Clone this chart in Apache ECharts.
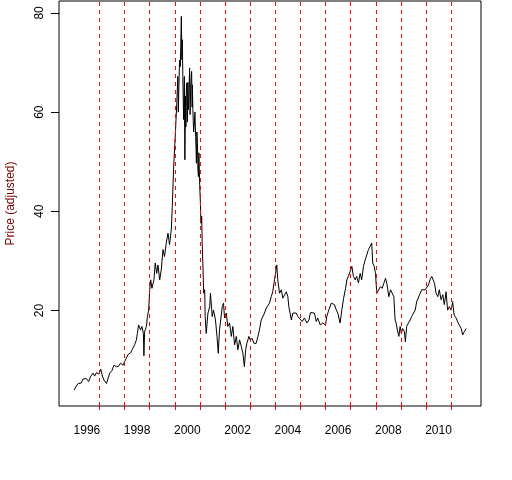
<!DOCTYPE html>
<html>
<head>
<meta charset="utf-8">
<script src="https://cdn.jsdelivr.net/npm/echarts@6/dist/echarts.min.js"></script>
<style>
  html, body { margin: 0; padding: 0; background: #fff; }
  #chart { width: 512px; height: 480px; }
</style>
</head>
<body>
<div id="chart"></div>
<script>
// daily adjusted close (decimal years)
var years = [
  1995.99, 1996.08, 1996.15, 1996.28, 1996.34, 1996.48, 1996.57, 1996.65, 1996.74, 1996.81,
  1996.88, 1996.98, 1997.05, 1997.12, 1997.18, 1997.28, 1997.34, 1997.41, 1997.50, 1997.58,
  1997.67, 1997.75, 1997.84, 1997.94, 1998.00, 1998.07, 1998.13, 1998.24, 1998.33, 1998.40,
  1998.47, 1998.51, 1998.56, 1998.64, 1998.69, 1998.75, 1998.77, 1998.80, 1998.87, 1998.91,
  1998.96, 1999.00, 1999.04, 1999.09, 1999.17, 1999.22, 1999.28, 1999.33, 1999.40, 1999.46,
  1999.53, 1999.59, 1999.66, 1999.73, 1999.79, 1999.86, 1999.90, 1999.95, 1999.99, 2000.03,
  2000.08, 2000.12, 2000.14, 2000.16, 2000.19, 2000.22, 2000.26, 2000.28, 2000.30, 2000.32,
  2000.35, 2000.38, 2000.40, 2000.43, 2000.44, 2000.46, 2000.48, 2000.50, 2000.52, 2000.54,
  2000.56, 2000.59, 2000.61, 2000.63, 2000.65, 2000.67, 2000.69, 2000.70, 2000.72, 2000.75,
  2000.78, 2000.80, 2000.83, 2000.85, 2000.86, 2000.88, 2000.90, 2000.92, 2000.94, 2000.96,
  2000.99, 2001.02, 2001.04, 2001.07, 2001.09, 2001.12,
  2001.15, 2001.19, 2001.21, 2001.25, 2001.32, 2001.39, 2001.42, 2001.49, 2001.54, 2001.62,
  2001.68, 2001.73, 2001.78, 2001.82, 2001.89, 2001.94, 2001.98, 2002.05, 2002.11, 2002.18,
  2002.25, 2002.31, 2002.38, 2002.45, 2002.51, 2002.58, 2002.65, 2002.71, 2002.77, 2002.82,
  2002.87, 2002.95, 2003.00, 2003.08, 2003.15, 2003.24, 2003.31, 2003.37, 2003.44, 2003.51,
  2003.57, 2003.64, 2003.70, 2003.77, 2003.84, 2003.90, 2003.97, 2004.01, 2004.06, 2004.10,
  2004.17, 2004.24, 2004.30, 2004.37, 2004.44, 2004.50, 2004.54, 2004.61, 2004.64, 2004.70,
  2004.77, 2004.83, 2004.90, 2004.97, 2005.07, 2005.16, 2005.26, 2005.34, 2005.40, 2005.47,
  2005.56, 2005.63, 2005.69, 2005.79, 2005.89, 2006.00, 2006.05, 2006.13, 2006.23, 2006.29,
  2006.36, 2006.43, 2006.49, 2006.58, 2006.65, 2006.72, 2006.80, 2006.85, 2006.91, 2006.98,
  2007.05, 2007.11, 2007.18, 2007.24, 2007.31, 2007.38, 2007.44, 2007.51, 2007.58, 2007.64,
  2007.71, 2007.77, 2007.84, 2007.88, 2007.94, 2007.99, 2008.04, 2008.11, 2008.18, 2008.26,
  2008.32, 2008.39, 2008.45, 2008.52, 2008.59, 2008.65, 2008.72, 2008.77, 2008.81, 2008.86,
  2008.92, 2008.97, 2009.02, 2009.07, 2009.14, 2009.18, 2009.23, 2009.30, 2009.37, 2009.43,
  2009.50, 2009.57, 2009.63, 2009.70, 2009.77, 2009.83, 2009.90, 2009.97, 2010.03, 2010.10,
  2010.16, 2010.23, 2010.30, 2010.34, 2010.40, 2010.47, 2010.53, 2010.60, 2010.67, 2010.73,
  2010.80, 2010.86, 2010.93, 2011.00, 2011.06, 2011.12, 2011.20, 2011.28, 2011.33, 2011.40,
  2011.46, 2011.53, 2011.60
];
var price = [
  4.0, 4.8, 5.3, 5.4, 6.2, 6.3, 5.7, 6.7, 7.4, 6.8,
  7.5, 7.2, 8.2, 6.8, 6.0, 5.3, 5.7, 7.4, 7.9, 9.0,
  8.7, 8.7, 9.4, 9.0, 9.7, 10.4, 11.1, 11.5, 12.4, 13.1,
  14.1, 15.4, 17.1, 16.1, 16.8, 15.4, 10.9, 15.8, 16.8, 18.8,
  20.1, 24.2, 26.2, 24.5, 26.2, 29.6, 27.5, 29.2, 26.2, 28.2,
  32.3, 30.9, 33.6, 35.6, 33.3, 36.3, 41.0, 48.4, 52.4, 56.5,
  61.9, 67.2, 60.0, 64.5, 70.5, 69.2, 79.3, 70.6, 74.6, 67.2,
  58.5, 67.2, 50.4, 63.2, 57.0, 64.5, 65.9, 58.0, 66.0, 60.5,
  63.0, 68.9, 59.5, 64.5, 67.0, 68.2, 61.0, 65.5, 60.5, 56.0,
  57.8, 60.0, 55.1, 52.0, 49.7, 56.0, 53.8, 48.5, 47.0, 51.8,
  45.4, 41.7, 37.6, 39.0, 33.6, 29.0,
  23.5, 24.2, 18.8, 15.4, 19.5, 20.8, 23.5, 18.8, 20.1, 18.1,
  14.8, 11.4, 16.1, 15.8, 20.8, 21.5, 18.5, 19.5, 16.8, 17.5,
  14.8, 16.8, 13.1, 14.8, 12.1, 14.1, 12.7, 11.4, 8.7, 12.1,
  13.4, 14.8, 14.1, 14.4, 13.4, 13.4, 14.8, 16.1, 18.1, 18.5,
  19.5, 20.5, 20.8, 21.5, 22.8, 23.8, 26.2, 27.5, 29.2, 26.2,
  23.5, 24.2, 22.5, 22.8, 23.8, 22.8, 20.8, 20.5, 18.1, 19.5,
  19.1, 19.5, 18.8, 19.1, 17.8, 18.5, 17.5, 18.1, 19.6, 19.8,
  19.5, 17.8, 18.5, 17.1, 17.5, 17.1, 18.8, 20.1, 21.5, 21.8,
  21.2, 20.1, 19.5, 17.5, 20.1, 22.5, 24.5, 26.2, 26.9, 27.9,
  28.9, 26.9, 26.2, 26.9, 25.6, 27.5, 26.2, 28.9, 30.2, 31.2,
  32.3, 32.9, 33.6, 29.6, 28.9, 27.5, 23.5, 23.8, 24.8, 24.5,
  25.5, 26.5, 25.2, 22.8, 24.2, 24.5, 22.8, 18.1, 17.5, 16.1,
  14.8, 16.8, 15.4, 16.4, 15.8, 13.7, 16.8, 17.5, 18.1, 18.8,
  18.5, 20.1, 21.8, 22.2, 23.5, 24.2, 23.8, 24.2, 24.5, 25.2,
  26.2, 26.9, 27.2, 25.5, 23.5, 22.8, 24.2, 22.2, 23.2, 21.2,
  23.8, 20.1, 20.8, 20.1, 21.8, 19.1, 18.5, 17.5, 17.8, 16.4,
  15.1, 15.8, 16.4
];
// dashed year boundaries
var lineYears = [1997, 1998, 1999, 2000, 2001, 2002, 2003, 2004, 2005, 2006, 2007, 2008, 2009, 2010, 2011];
// year labels sit mid-year
var labelYears = [1996.5, 1998.5, 2000.5, 2002.5, 2004.5, 2006.5, 2008.5, 2010.5];
var yTicks = [20, 40, 60, 80];

var chart = echarts.init(document.getElementById('chart'));
var font = 'Arial, "Liberation Sans", sans-serif';

chart.setOption({
  animation: false,
  backgroundColor: '#fff',
  grid: {
    left: 59,
    top: 1,
    width: 422,
    height: 405,
    outerBoundsMode: 'none',
    show: true,
    borderColor: '#000',
    borderWidth: 1,
    backgroundColor: 'transparent'
  },
  xAxis: {
    type: 'value',
    min: 1995.39,
    max: 2012.19,
    axisLine: { show: false },
    splitLine: { show: false },
    axisTick: {
      show: true,
      length: 5,
      customValues: lineYears,
      lineStyle: { color: '#ff0000', type: [4, 4], width: 1 }
    },
    axisLabel: {
      customValues: labelYears,
      margin: 19,
      color: '#000',
      fontSize: 12,
      fontFamily: font,
      formatter: function (v) { return String(Math.floor(v)); }
    }
  },
  yAxis: {
    type: 'value',
    min: 0.77,
    max: 82.4,
    name: 'Price (adjusted)',
    nameLocation: 'middle',
    nameGap: 42,
    nameTextStyle: { color: '#700000', fontSize: 12, fontFamily: font },
    axisLine: { show: false },
    splitLine: { show: false },
    axisTick: {
      show: true,
      length: 8,
      customValues: yTicks,
      lineStyle: { color: '#000', width: 1 }
    },
    axisLabel: {
      customValues: yTicks,
      rotate: 90,
      margin: 13,
      color: '#000',
      fontSize: 12,
      fontFamily: font
    }
  },
  series: [{
    type: 'line',
    data: years.map(function (t, i) { return [t, price[i]]; }),
    showSymbol: false,
    symbol: 'none',
    lineStyle: { color: '#000', width: 1 },
    silent: true,
    markLine: {
      silent: true,
      symbol: ['none', 'none'],
      label: { show: false },
      lineStyle: { color: '#ff0000', type: [4, 4], width: 1 },
      data: lineYears.map(function (y) { return { xAxis: y }; })
    }
  }]
});
</script>
</body>
</html>
